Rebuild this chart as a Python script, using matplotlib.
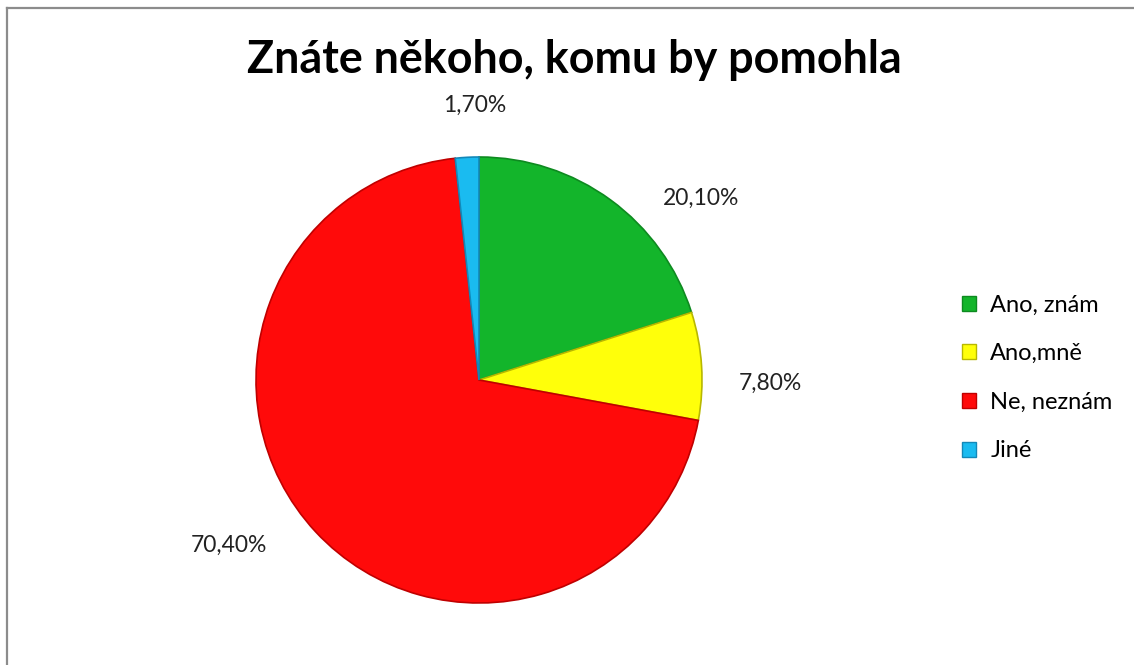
import matplotlib
matplotlib.use("Agg")
import matplotlib.pyplot as plt
from matplotlib.lines import Line2D
from matplotlib.patches import Patch

title = "Znáte někoho, komu by pomohla"
categories = ["Ano, znám", "Ano,mně", "Ne, neznám", "Jiné"]
values = [20.1, 7.8, 70.4, 1.7]
value_labels = ["20,10%", "7,80%", "70,40%", "1,70%"]
colors = ["#13B52B", "#FFFF0A", "#FF0A0A", "#1ABBF0"]
edge_colors = ["#0E8A20", "#B8B800", "#C00000", "#1388B8"]

W, H = 1134, 665
fig = plt.figure(figsize=(W / 100, H / 100), dpi=100)
plt.rcParams['font.family'] = ['Lato', 'DejaVu Sans']

# pie axes: centre (479,380) px, radius 223 px
cx, cy, R = 479, 380, 223
ax = fig.add_axes([(cx - R) / W, (H - cy - R) / H, 2 * R / W, 2 * R / H])
wedges, _ = ax.pie(values, colors=colors, startangle=90, counterclock=False,
                   radius=1.0, wedgeprops=dict(linewidth=1.2))
for w, ec in zip(wedges, edge_colors):
    w.set_edgecolor(ec)
ax.set_xlim(-1, 1)
ax.set_ylim(-1, 1)
ax.set_aspect('equal')
ax.axis('off')

# data labels (best-fit positions, relative to radius)
label_pos = [(0.995, 0.815), (1.305, -0.015), (-1.12, -0.74), (-0.02, 1.233)]
for (x, y), t in zip(label_pos, value_labels):
    ax.text(x, y, t, ha='center', va='center', fontsize=16.5, color='#222222',
            clip_on=False)

fig.text(574 / W, 1 - 60 / H, title, ha='center', va='center',
         fontsize=32.3, fontweight='bold', color='black')

handles = [Patch(facecolor=c, edgecolor=e, linewidth=1) for c, e in zip(colors, edge_colors)]
fig.legend(handles, categories, loc='center left', bbox_to_anchor=(962 / W, 1 - 378 / H),
           frameon=False, fontsize=17, handlelength=0.6, handleheight=0.6,
           handletextpad=0.6, labelspacing=1.17, borderaxespad=0, borderpad=0)

# chart area border (top and left visible)
fig.add_artist(Line2D([7 / W, 1.0], [1 - 8 / H, 1 - 8 / H], color='#8C8C8C', lw=1.6,
                      transform=fig.transFigure))
fig.add_artist(Line2D([7 / W, 7 / W], [0, 1 - 8 / H], color='#8C8C8C', lw=1.6,
                      transform=fig.transFigure))

fig.savefig("out.png", dpi=100, facecolor='white')
